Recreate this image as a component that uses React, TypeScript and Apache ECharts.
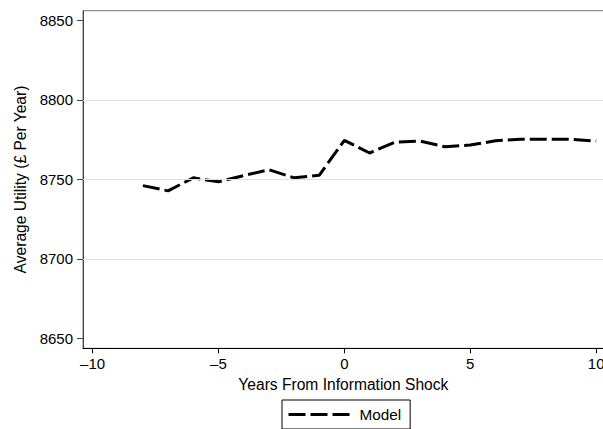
import React, { useEffect, useRef } from "react";
import * as echarts from "echarts";

const years = [-8, -7, -6, -5, -4, -3, -2, -1, 0, 1, 2, 3, 4, 5, 6, 7, 8, 9, 10];
const modelValues = [8746, 8742.7, 8750.9, 8748.4, 8752.3, 8756, 8750.9, 8752.5, 8774.5, 8766.5, 8773.3, 8774, 8770.4, 8771.5, 8774.2, 8775.2, 8775.2, 8775.2, 8774];
const xTicks = [-10, -5, 0, 5, 10];
const yTicks = [8650, 8700, 8750, 8800, 8850];
const gridValues = [8700, 8750, 8800];

const FONT = "'Liberation Sans', Arial, sans-serif";

export default function App() {
  const ref = useRef<HTMLDivElement>(null);
  useEffect(() => {
    if (!ref.current) return;
    const chart = echarts.init(ref.current, null, { renderer: "svg" });
    chart.setOption({
      animation: false,
      backgroundColor: "#ffffff",
      textStyle: { fontFamily: FONT },
      grid: {
        left: 83,
        top: 10.7,
        width: 520.7,
        height: 337.6,
        outerBoundsMode: "none",
        containLabel: false,
        show: true,
        borderColor: "#777777",
        borderWidth: 1,
        backgroundColor: "transparent",
      },
      legend: {
        data: ["Model"],
        left: 282,
        top: 400,
        orient: "horizontal",
        padding: [7, 9, 7, 5],
        borderColor: "#000000",
        borderWidth: 1,
        borderRadius: 0,
        itemWidth: 66,
        itemHeight: 14,
        itemStyle: { opacity: 0, borderWidth: 0 },
        lineStyle: { width: 3, color: "#000000", type: [17, 5], cap: "butt" },
        textStyle: { fontSize: 15.3, color: "#000000", fontFamily: FONT },
      },
      xAxis: {
        type: "value",
        min: -10.38,
        max: 10.3,
        name: "Years From Information Shock",
        nameLocation: "middle",
        nameGap: 24.5,
        nameTextStyle: { fontSize: 15.6, color: "#000000", fontFamily: FONT, verticalAlign: "top" },
        axisLine: { show: true, onZero: false, lineStyle: { color: "#000000", width: 1 } },
        axisTick: { show: true, length: 5, customValues: xTicks, lineStyle: { color: "#000000" } },
        axisLabel: {
          customValues: xTicks,
          margin: 8,
          fontSize: 15,
          color: "#000000",
          fontFamily: FONT,
          formatter: (v: number) => String(v).replace("-", "\u2013"),
        },
        splitLine: { show: false },
      },
      yAxis: {
        type: "value",
        min: 8643.7,
        max: 8856,
        name: "Average Utility (\u00a3 Per Year)",
        nameLocation: "middle",
        nameGap: 55,
        nameRotate: 90,
        nameTextStyle: { fontSize: 15.6, color: "#000000", fontFamily: FONT },
        axisLine: { show: true, onZero: false, lineStyle: { color: "#444444", width: 1 } },
        axisTick: { show: true, length: 6, customValues: yTicks, lineStyle: { color: "#444444" } },
        axisLabel: {
          customValues: yTicks,
          margin: 10,
          fontSize: 15,
          color: "#000000",
          fontFamily: FONT,
          formatter: (v: number) => String(v),
        },
        splitLine: { show: false },
      },
      series: [
        {
          name: "grid",
          type: "line",
          data: [],
          z: 1,
          silent: true,
          markLine: {
            silent: true,
            symbol: ["none", "none"],
            label: { show: false },
            lineStyle: { color: "#dedede", type: "solid", width: 1 },
            data: gridValues.map((v) => ({ yAxis: v })),
          },
        },
        {
          name: "Model",
          type: "line",
          z: 3,
          data: years.map((y, i) => [y, modelValues[i]]),
          symbol: "none",
          showSymbol: false,
          color: "#000000",
          lineStyle: { color: "#000000", width: 3, type: [17, 5], cap: "butt" },
        },
      ],
    });
    return () => chart.dispose();
  }, []);
  return (
    <div
      ref={ref}
      style={{ position: "fixed", left: 0, top: 0, width: 603, height: 429 }}
    />
  );
}
